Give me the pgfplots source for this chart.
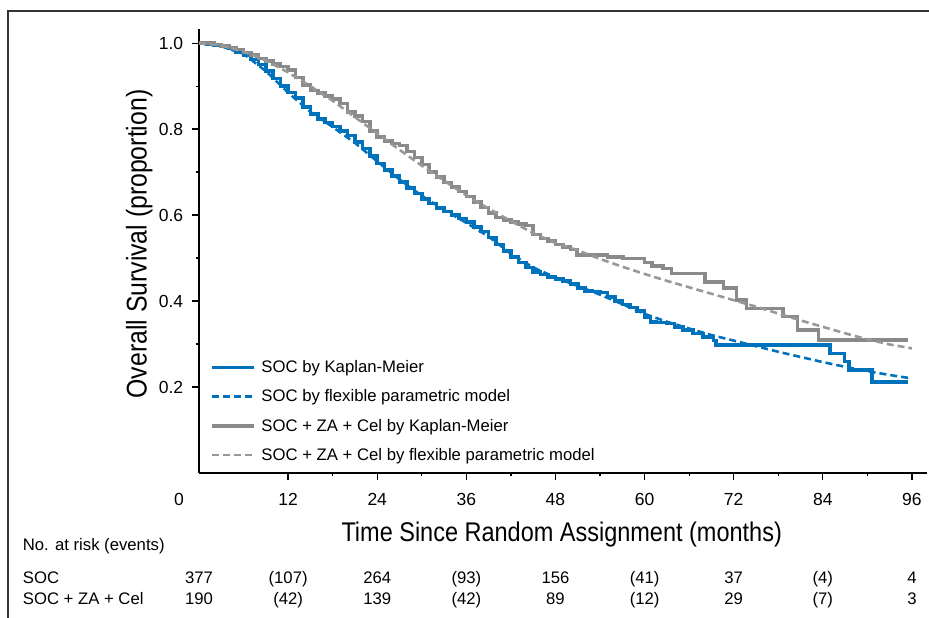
\documentclass[border=0pt]{standalone}
\usepackage{fontspec}
\setmainfont{Liberation Sans}
\newfontfamily\condfont[FakeStretch=0.87]{Liberation Sans}
\usepackage{pgfplots}
\pgfplotsset{compat=1.18}
\usepackage{pgfplotstable}

\definecolor{socblue}{RGB}{0,114,188}
\definecolor{zagray}{RGB}{138,138,138}
\definecolor{zagraylt}{RGB}{152,152,152}

% Kaplan-Meier, SOC
\pgfplotstableread{
t S
0 1.000
1 0.997
2 0.995
3 0.992
4 0.988
5 0.980
6 0.972
7 0.962
8 0.950
9 0.935
10 0.918
11 0.900
12 0.885
13 0.872
14 0.852
15 0.835
16 0.824
17 0.815
18 0.806
19 0.795
20 0.785
21 0.770
22 0.755
23 0.738
24 0.720
25 0.705
26 0.691
27 0.677
28 0.663
29 0.650
30 0.638
31 0.627
32 0.617
33 0.608
34 0.600
35 0.592
36 0.584
37 0.572
38 0.562
39 0.548
40 0.532
41 0.516
42 0.502
43 0.490
44 0.478
45 0.468
46 0.462
47 0.456
48 0.451
49 0.447
50 0.440
51 0.430
52 0.424
53 0.422
54 0.420
55 0.410
56 0.400
57 0.392
58 0.385
59 0.377
60 0.362
60.8 0.352
61.5 0.350
63 0.348
64 0.340
65.2 0.333
66.5 0.325
67.9 0.317
69.3 0.308
69.6 0.298
85.0 0.278
86.9 0.259
87.5 0.240
90.6 0.212
95.5 0.212
}\socKM

% flexible parametric model, SOC
\pgfplotstableread{
t S
0 1.000
3 0.993
6 0.975
9 0.935
12 0.885
15 0.840
18 0.805
21 0.768
24 0.725
27 0.683
30 0.645
33 0.612
36 0.582
39 0.550
42 0.510
45 0.478
48 0.455
51 0.435
54 0.415
57 0.393
60 0.370
63 0.352
66 0.336
69 0.321
72 0.308
75 0.295
78 0.282
81 0.270
84 0.258
87 0.247
90 0.237
93 0.228
96 0.220
}\socFPM

% Kaplan-Meier, SOC + ZA + Cel
\pgfplotstableread{
t S
0 1.000
2 0.997
3 0.993
4 0.990
5 0.985
6 0.978
7 0.972
8 0.964
9 0.958
10 0.952
11 0.946
12 0.937
13 0.920
14 0.903
15 0.890
16 0.884
17 0.877
18 0.870
19 0.860
20 0.840
21 0.830
22 0.818
23 0.795
24 0.782
25 0.772
26 0.767
27 0.762
28 0.748
29 0.734
30 0.718
31 0.700
32 0.688
33 0.676
34 0.665
35 0.655
36 0.643
37 0.630
38 0.618
39 0.605
40 0.594
41 0.588
42 0.584
43 0.580
44 0.576
45 0.555
46 0.546
47 0.540
48 0.532
49 0.526
50 0.520
50.9 0.507
55 0.503
57.1 0.499
60 0.490
61 0.482
62.5 0.476
63.6 0.464
68.1 0.445
70.6 0.430
72.4 0.402
73.7 0.383
78.6 0.364
80.6 0.333
83.4 0.309
95.5 0.309
}\zaKM

% flexible parametric model, SOC + ZA + Cel
\pgfplotstableread{
t S
0 1.000
3 0.995
6 0.980
9 0.960
12 0.932
15 0.900
18 0.866
21 0.828
24 0.790
27 0.752
30 0.715
33 0.680
36 0.646
39 0.615
42 0.586
45 0.558
48 0.535
51 0.518
54 0.498
57 0.480
60 0.463
63 0.447
66 0.432
69 0.417
72 0.402
75 0.387
78 0.371
81 0.355
84 0.340
87 0.325
90 0.311
93 0.299
96 0.290
}\zaFPM

\begin{document}
\begin{tikzpicture}
\path[use as bounding box] (0,0) rectangle (929bp,618bp);
\draw[line width=1.3bp, black!80] (8bp,0bp) -- (8bp,607bp) -- (929bp,607bp);

\begin{axis}[%
at={(199bp,145bp)}, anchor=south west,%
width=727.8bp, height=444bp, scale only axis,%
xmin=0, xmax=98, ymin=0, ymax=1.033,%
axis x line*=bottom, axis y line*=left,%
axis line style={line width=2.2bp, black},%
xtick={12,24,...,96},%
xticklabels={12,24,36,48,60,72,84,96},%
ytick={0.2,0.4,0.6,0.8,1.0},%
yticklabels={0.2,0.4,0.6,0.8,1.0},%
minor x tick num=1, minor y tick num=1,%
tick align=outside,%
major tick length=7bp, minor tick length=3.5bp,%
every tick/.style={line width=1.3bp, black},%
xticklabel style={font=\fontsize{17.5bp}{20bp}\selectfont, inner sep=0pt, anchor=base, yshift=-25.3bp},%
yticklabel style={font=\fontsize{17.5bp}{20bp}\selectfont, inner sep=0pt, anchor=east, xshift=-8.7bp},%
clip=false,%
legend style={at={(0.0151,0.271)}, anchor=north west, draw=none, fill=none,%
  inner sep=0pt, row sep=0pt, column sep=5.7bp,%
  nodes={inner sep=0pt, minimum height=29.2bp, anchor=west, font=\fontsize{16.7bp}{19bp}\selectfont},%
  font=\fontsize{16.7bp}{19bp}\selectfont},%
legend cell align=left,%
legend image code/.code={\draw[#1] (0bp,0bp) -- (42bp,0bp);},%
]

\addplot[const plot, color=socblue, line width=3.6bp] table[x=t, y=S] {\socKM};
\addlegendentry{SOC by Kaplan-Meier}

\addplot[color=socblue, line width=2.6bp, dash pattern=on 7bp off 4bp] table[x=t, y=S] {\socFPM};
\addlegendentry{SOC by flexible parametric model}

\addplot[const plot, color=zagray, line width=3.6bp] table[x=t, y=S] {\zaKM};
\addlegendentry{SOC + ZA + Cel by Kaplan-Meier}

\addplot[color=zagraylt, line width=2.6bp, dash pattern=on 7bp off 4bp] table[x=t, y=S] {\zaFPM};
\addlegendentry{SOC + ZA + Cel by flexible parametric model}

\end{axis}

\node[font=\fontsize{17.5bp}{20bp}\selectfont, inner sep=0pt, anchor=base] at (179bp,112.7bp) {0};
\node[font=\condfont\fontsize{27bp}{30bp}\selectfont, inner sep=0pt, anchor=base] at (561.7bp,76.3bp) {Time Since Random Assignment (months)};
\node[font=\condfont\fontsize{28.5bp}{32bp}\selectfont, inner sep=0pt, anchor=base, rotate=90] at (146.5bp,374bp) {Overall Survival (proportion)};

% number at risk table
\begin{scope}[every node/.style={font=\fontsize{16.7bp}{19bp}\selectfont, inner sep=0pt}]
\node[anchor=base west] at (22.7bp,67bp) {No. at risk (events)};
\node[anchor=base west] at (22.7bp,34.7bp) {SOC};
\node[anchor=base west] at (22.7bp,13.7bp) {SOC + ZA + Cel};
\foreach \v [count=\i from 0] in {377,{(107)},264,{(93)},156,{(41)},37,{(4)},4}
  \node[anchor=base] at ({199bp+89.12bp*\i},34.7bp) {\v};
\foreach \v [count=\i from 0] in {190,{(42)},139,{(42)},89,{(12)},29,{(7)},3}
  \node[anchor=base] at ({199bp+89.12bp*\i},13.7bp) {\v};
\end{scope}
\end{tikzpicture}
\end{document}
